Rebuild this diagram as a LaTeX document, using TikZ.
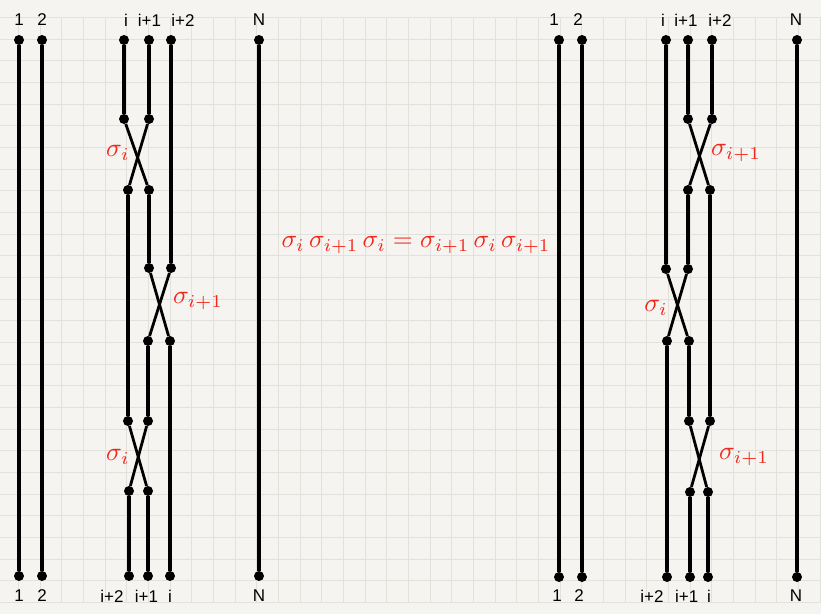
\documentclass[tikz,border=0pt]{standalone}
\usepackage{fontspec}
\newfontfamily\labfont{Liberation Sans}
\definecolor{paper}{RGB}{245,244,240}
\definecolor{gridc}{RGB}{226,225,220}
\definecolor{sigred}{RGB}{240,40,28}
\begin{document}
\begin{tikzpicture}[x=1pt,y=-1pt,
  dot/.style={circle,fill=black,minimum size=10pt,inner sep=0pt},
  gridline/.style={draw=gridc,line width=0.9pt},
  thinstr/.style={line width=3.4pt},
  medstr/.style={line width=4.1pt},
  thickstr/.style={line width=4.8pt},
  crossstr/.style={line width=2.8pt},
  lab/.style={font=\labfont\fontsize{17}{19}\selectfont,text=black,inner sep=0pt},
  sig/.style={text=sigred,scale=2.6,inner sep=0pt},
  eqn/.style={text=sigred,scale=2.57,inner sep=0pt}]
\useasboundingbox[fill=paper] (0,0) rectangle (821,614);
% grid
\foreach \k in {0,...,37} \draw[gridline] ({18.3+21.67*\k},17.3) -- ({18.3+21.67*\k},602.5);
\foreach \k in {0,...,27} \draw[gridline] (0,{17.3+21.67*\k}) -- (821,{17.3+21.67*\k});

% ---------- left braid ----------
\node[dot] (A1t) at (19,40) {};  \node[dot] (A1b) at (19,576) {};
\node[dot] (A2t) at (42,40) {};  \node[dot] (A2b) at (42,576) {};
\node[dot] (ANt) at (259,40) {}; \node[dot] (ANb) at (259,576) {};
\node[dot] (Ait) at (124,40) {}; \node[dot] (Aia) at (124,119) {};
\node[dot] (Aib) at (149,190) {}; \node[dot] (Aic) at (149,268) {};
\node[dot] (Aid) at (170,341) {}; \node[dot] (Aie) at (170,576) {};
\node[dot] (Ajt) at (149,40) {}; \node[dot] (Aja) at (149,119) {};
\node[dot] (Ajb) at (128,190) {}; \node[dot] (Ajc) at (128,421) {};
\node[dot] (Ajd) at (148,491) {}; \node[dot] (Aje) at (148,576) {};
\node[dot] (Akt) at (171,40) {}; \node[dot] (Aka) at (171,268) {};
\node[dot] (Akb) at (148,341) {}; \node[dot] (Akc) at (148,421) {};
\node[dot] (Akd) at (129,491) {}; \node[dot] (Ake) at (129,576) {};

\draw[thinstr] (A1t) -- (A1b);
\draw[medstr] (A2t) -- (A2b);
\draw[medstr] (ANt) -- (ANb);
\draw[thinstr] (Ait) -- (Aia);
\draw[crossstr] (Aia) -- (Aib);
\draw[thinstr] (Aib) -- (Aic);
\draw[crossstr] (Aic) -- (Aid);
\draw[thinstr] (Aid) -- (Aie);
\draw[medstr] (Ajt) -- (Aja);
\draw[crossstr] (Aja) -- (Ajb);
\draw[medstr] (Ajb) -- (Ajc);
\draw[crossstr] (Ajc) -- (Ajd);
\draw[medstr] (Ajd) -- (Aje);
\draw[thickstr] (Akt) -- (Aka);
\draw[crossstr] (Aka) -- (Akb);
\draw[thickstr] (Akb) -- (Akc);
\draw[crossstr] (Akc) -- (Akd);
\draw[thickstr] (Akd) -- (Ake);

\node[lab] (lA1t) at (19,20) {1};
\node[lab] (lA2t) at (42,20) {2};
\node[lab] (lAit) at (126,20) {i};
\node[lab] (lAjt) at (149.5,20) {i+1};
\node[lab] (lAkt) at (183,20) {i+2};
\node[lab] (lANt) at (259,20) {N};
\node[lab] (lA1b) at (19,596) {1};
\node[lab] (lA2b) at (42,596) {2};
\node[lab] (lAkb) at (112,596) {i+2};
\node[lab] (lAjb) at (146.5,596) {i+1};
\node[lab] (lAib) at (170,596) {i};
\node[lab] (lANb) at (259,596) {N};

\node[sig] (sA1) at (118,153) {$\sigma_i$};
\node[sig] (sA2) at (198,301) {$\sigma_{i+1}$};
\node[sig] (sA3) at (118,457) {$\sigma_i$};

% ---------- equation ----------
\node[eqn] (eq) at (416,245) {$\sigma_i\,\sigma_{i+1}\,\sigma_i=\sigma_{i+1}\,\sigma_i\,\sigma_{i+1}$};

% ---------- right braid ----------
\node[dot] (B1t) at (559,40) {};  \node[dot] (B1b) at (559,577) {};
\node[dot] (B2t) at (582,40) {};  \node[dot] (B2b) at (582,577) {};
\node[dot] (BNt) at (797,40) {};  \node[dot] (BNb) at (797,577) {};
\node[dot] (Bit) at (666,40) {};  \node[dot] (Bia) at (666,269) {};
\node[dot] (Bib) at (689,341) {}; \node[dot] (Bic) at (689,421) {};
\node[dot] (Bid) at (708,492) {}; \node[dot] (Bie) at (708,577) {};
\node[dot] (Bjt) at (688,40) {};  \node[dot] (Bja) at (688,119) {};
\node[dot] (Bjb) at (710,190) {}; \node[dot] (Bjc) at (710,421) {};
\node[dot] (Bjd) at (690,492) {}; \node[dot] (Bje) at (690,577) {};
\node[dot] (Bkt) at (712,40) {};  \node[dot] (Bka) at (712,119) {};
\node[dot] (Bkb) at (688,190) {}; \node[dot] (Bkc) at (688,269) {};
\node[dot] (Bkd) at (667,341) {}; \node[dot] (Bke) at (667,577) {};

\draw[thinstr] (B1t) -- (B1b);
\draw[medstr] (B2t) -- (B2b);
\draw[medstr] (BNt) -- (BNb);
\draw[thinstr] (Bit) -- (Bia);
\draw[crossstr] (Bia) -- (Bib);
\draw[thinstr] (Bib) -- (Bic);
\draw[crossstr] (Bic) -- (Bid);
\draw[thinstr] (Bid) -- (Bie);
\draw[medstr] (Bjt) -- (Bja);
\draw[crossstr] (Bja) -- (Bjb);
\draw[medstr] (Bjb) -- (Bjc);
\draw[crossstr] (Bjc) -- (Bjd);
\draw[medstr] (Bjd) -- (Bje);
\draw[thickstr] (Bkt) -- (Bka);
\draw[crossstr] (Bka) -- (Bkb);
\draw[thickstr] (Bkb) -- (Bkc);
\draw[crossstr] (Bkc) -- (Bkd);
\draw[thickstr] (Bkd) -- (Bke);

\node[lab] (lB1t) at (554,20) {1};
\node[lab] (lB2t) at (578,20) {2};
\node[lab] (lBit) at (663,20) {i};
\node[lab] (lBjt) at (686,20) {i+1};
\node[lab] (lBkt) at (720,20) {i+2};
\node[lab] (lBNt) at (796,20) {N};
\node[lab] (lB1b) at (557,596) {1};
\node[lab] (lB2b) at (579,596) {2};
\node[lab] (lBkb) at (652,596) {i+2};
\node[lab] (lBjb) at (686.7,596) {i+1};
\node[lab] (lBib) at (709,596) {i};
\node[lab] (lBNb) at (796,596) {N};

\node[sig] (sB1) at (736,153) {$\sigma_{i+1}$};
\node[sig] (sB2) at (656,308) {$\sigma_i$};
\node[sig] (sB3) at (744,457) {$\sigma_{i+1}$};
\end{tikzpicture}
\end{document}
